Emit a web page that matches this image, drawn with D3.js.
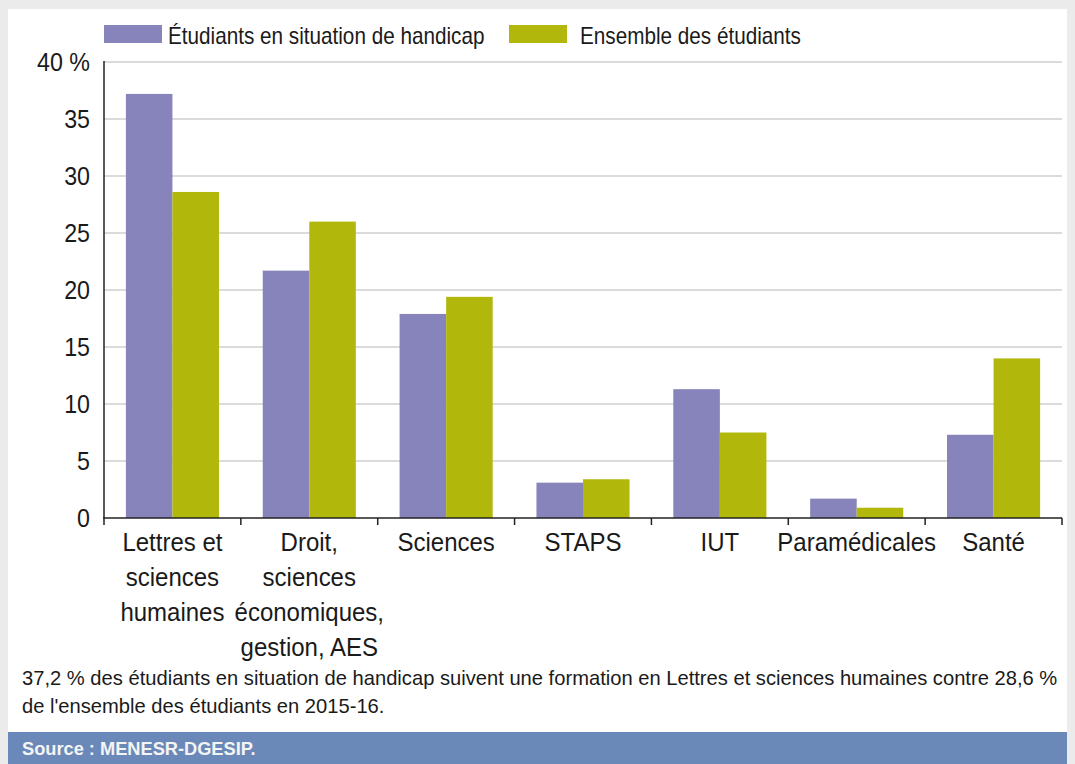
<!DOCTYPE html>
<html>
<head>
<meta charset="utf-8">
<script src="https://cdn.jsdelivr.net/npm/d3@7"></script>
<style>
  body { margin: 0; background: #ebebeb; }
  svg { display: block; }
  text { font-family: "Liberation Sans", Arial, sans-serif; fill: #1a1a1a; }
</style>
</head>
<body>
<svg id="chart" width="1075" height="764"></svg>
<script>
const categories = [
  ["Lettres et", "sciences", "humaines"],
  ["Droit,", "sciences", "économiques,", "gestion, AES"],
  ["Sciences"],
  ["STAPS"],
  ["IUT"],
  ["Paramédicales"],
  ["Santé"]
];
const handicap = [37.2, 21.7, 17.9, 3.1, 11.3, 1.7, 7.3];
const ensemble = [28.6, 26.0, 19.4, 3.4, 7.5, 0.9, 14.0];
const seriesNames = ["Étudiants en situation de handicap", "Ensemble des étudiants"];
const colors = ["#8783bb", "#b2b80b"];
const yTicks = [0, 5, 10, 15, 20, 25, 30, 35, 40];
const note = [
  "37,2 % des étudiants en situation de handicap suivent une formation en Lettres et sciences humaines contre 28,6 %",
  "de l'ensemble des étudiants en 2015-16."
];
const source = "Source : MENESR-DGESIP.";

const svg = d3.select("#chart");

/* the original font is a condensed one, so squeeze the text a bit */
const place = (x, y, k) => `translate(${x},${y}) scale(${k},1)`;

/* white panel */
svg.append("rect").attr("x", 8).attr("y", 9).attr("width", 1059).attr("height", 755).attr("fill", "#fff");

const margin = { left: 104, top: 62, right: 1062, bottom: 518 };

const x = d3.scaleBand().domain(d3.range(categories.length)).range([margin.left, margin.right]);
const sub = d3.scaleBand().domain([0, 1]).range([0, x.bandwidth()]).paddingOuter(0.47);
const y = d3.scaleLinear().domain([0, 40]).range([margin.bottom, margin.top]);

/* gridlines */
svg.append("g")
  .selectAll("line")
  .data(yTicks.filter(d => d > 0))
  .join("line")
  .attr("x1", margin.left).attr("x2", margin.right)
  .attr("y1", d => y(d)).attr("y2", d => y(d))
  .attr("stroke", "#b8b8b8").attr("stroke-width", 1.2);

/* bars */
const groups = svg.append("g")
  .selectAll("g")
  .data(categories.map((c, i) => [handicap[i], ensemble[i]]))
  .join("g")
  .attr("transform", (d, i) => `translate(${x(i)},0)`);

groups.selectAll("rect")
  .data(d => d)
  .join("rect")
  .attr("x", (d, j) => sub(j))
  .attr("width", sub.bandwidth())
  .attr("y", d => y(d))
  .attr("height", d => y(0) - y(d))
  .attr("fill", (d, j) => colors[j]);

/* y axis */
svg.append("line")
  .attr("x1", margin.left).attr("x2", margin.left)
  .attr("y1", y(40) - 1).attr("y2", y(0))
  .attr("stroke", "#222").attr("stroke-width", 1.5);

svg.append("g")
  .selectAll("text")
  .data(yTicks)
  .join("text")
  .attr("transform", d => place(90, y(d) + 9, 0.93))
  .attr("text-anchor", "end")
  .style("font-size", "25px")
  .text(d => d === 40 ? "40 %" : d);

/* x axis */
svg.append("line")
  .attr("x1", margin.left - 1).attr("x2", margin.right)
  .attr("y1", y(0)).attr("y2", y(0))
  .attr("stroke", "#222").attr("stroke-width", 1.5);

svg.append("g")
  .selectAll("line")
  .data(d3.range(categories.length + 1))
  .join("line")
  .attr("x1", i => i < categories.length ? x(i) : margin.right)
  .attr("x2", i => i < categories.length ? x(i) : margin.right)
  .attr("y1", y(0)).attr("y2", y(0) + 7)
  .attr("stroke", "#222").attr("stroke-width", 1.5);

const labels = svg.append("g")
  .selectAll("text")
  .data(categories)
  .join("text")
  .attr("text-anchor", "middle")
  .attr("transform", (d, i) => place(x(i) + x.bandwidth() / 2, 551, 0.96))
  .style("font-size", "25px");

labels.selectAll("tspan")
  .data(d => d)
  .join("tspan")
  .attr("x", 0)
  .attr("y", (d, k) => k * 35)
  .text(d => d);

/* legend */
const legend = svg.append("g");
const legendX = [104, 509];
seriesNames.forEach((name, j) => {
  legend.append("rect").attr("x", legendX[j]).attr("y", 25).attr("width", 58).attr("height", 18).attr("fill", colors[j]);
  legend.append("text")
    .attr("transform", place(legendX[j] + (j ? 71 : 64), 44, 0.9))
    .style("font-size", "23px")
    .text(name);
});

/* note */
svg.append("g")
  .selectAll("text")
  .data(note)
  .join("text")
  .attr("transform", (d, i) => place(22, 685 + i * 28, 0.96))
  .style("font-size", "21px")
  .text(d => d);

/* source bar */
svg.append("rect").attr("x", 8).attr("y", 732).attr("width", 1059).attr("height", 32).attr("fill", "#6a89b8");
svg.append("text")
  .attr("transform", place(22, 755, 0.96))
  .style("font-size", "19px").style("font-weight", "bold").style("fill", "#f4f4f4")
  .text(source);
</script>
</body>
</html>
